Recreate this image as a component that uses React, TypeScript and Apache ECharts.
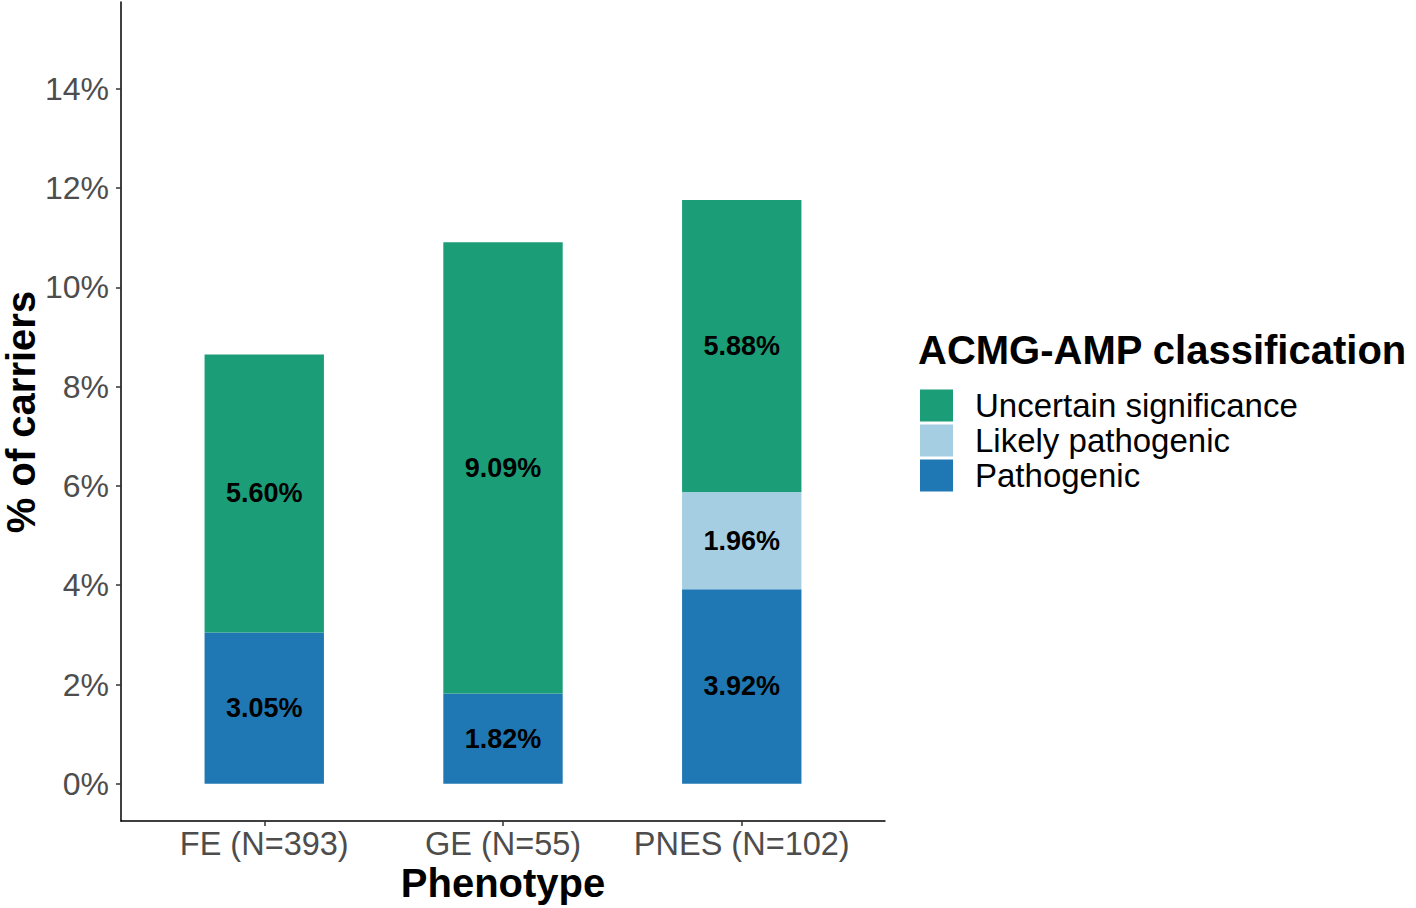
import React, { useEffect, useRef } from "react";
import * as echarts from "echarts";

const categories = ["FE (N=393)", "GE (N=55)", "PNES (N=102)"];
const pathogenic = [3.05, 1.82, 3.92];
const likelyPathogenic = [0, 0, 1.96];
const uncertain = [5.6, 9.09, 5.88];
const yTicks = [0, 2, 4, 6, 8, 10, 12, 14];
const legendOrder = ["Uncertain significance", "Likely pathogenic", "Pathogenic"];

const FONT = "'Liberation Sans', Arial, sans-serif";

// plot panel geometry (ggplot-like discrete expansion of 0.6 units each side)
const PANEL_LEFT = 121;
const PANEL_RIGHT = 885;
const X_MIN = 0.4;
const X_MAX = 3.6;
const UNIT = (PANEL_RIGHT - PANEL_LEFT) / (X_MAX - X_MIN);
const BAND_LEFT = PANEL_LEFT + (0.5 - X_MIN) * UNIT;
const BAND_RIGHT = PANEL_LEFT + (3.5 - X_MIN) * UNIT;
const Y_MIN = -0.75;
const Y_MAX = 15.75;

export default function App() {
  const ref = useRef<HTMLDivElement>(null);
  useEffect(() => {
    if (!ref.current) return;
    const chart = echarts.init(ref.current, null, { renderer: "svg" });
    const label = {
      show: true,
      position: "inside",
      fontFamily: FONT,
      fontWeight: "bold",
      fontSize: 27,
      color: "#000",
      formatter: (p: any) => (p.value > 0 ? Number(p.value).toFixed(2) + "%" : ""),
    };
    const mk = (name: string, arr: number[], color: string) => ({
      name,
      type: "bar",
      stack: "total",
      xAxisIndex: 1,
      yAxisIndex: 1,
      data: arr,
      barWidth: "50%",
      itemStyle: { color },
      label,
    });
    chart.setOption({
      animation: false,
      textStyle: { fontFamily: FONT },
      grid: [
        { left: PANEL_LEFT, right: 1416 - PANEL_RIGHT, top: 2, bottom: 87, containLabel: false },
        { left: BAND_LEFT, right: 1416 - BAND_RIGHT, top: 2, bottom: 87, containLabel: false },
      ],
      xAxis: [
        {
          type: "value",
          gridIndex: 0,
          min: X_MIN,
          max: X_MAX,
          splitLine: { show: false },
          axisLine: { show: true, onZero: false, lineStyle: { color: "#000", width: 1.5 } },
          axisTick: { show: true, length: 5, customValues: [1, 2, 3], lineStyle: { color: "#333", width: 1.5 } },
          axisLabel: {
            customValues: [1, 2, 3],
            formatter: (v: number) => categories[Math.round(v) - 1] ?? "",
            color: "#4d4d4d",
            fontSize: 32.5,
            fontFamily: FONT,
            margin: 6,
          },
        },
        {
          type: "category",
          gridIndex: 1,
          data: categories,
          boundaryGap: true,
          show: false,
        },
      ],
      yAxis: [
        {
          type: "value",
          gridIndex: 0,
          min: Y_MIN,
          max: Y_MAX,
          splitLine: { show: false },
          axisLine: { show: true, onZero: false, lineStyle: { color: "#000", width: 1.5 } },
          axisTick: { show: true, length: 5, customValues: yTicks, lineStyle: { color: "#333", width: 1.5 } },
          axisLabel: {
            customValues: yTicks,
            formatter: (v: number) => `${v}%`,
            color: "#4d4d4d",
            fontSize: 32,
            fontFamily: FONT,
            margin: 12,
          },
        },
        {
          type: "value",
          gridIndex: 1,
          min: Y_MIN,
          max: Y_MAX,
          show: false,
          splitLine: { show: false },
        },
      ],
      legend: {
        data: legendOrder,
        orient: "vertical",
        left: 915,
        top: 384,
        icon: "rect",
        itemWidth: 33,
        itemHeight: 32,
        itemGap: 2,
        selectedMode: false,
        textStyle: {
          fontSize: 33,
          lineHeight: 32,
          color: "#000",
          fontFamily: FONT,
          padding: [0, 0, 0, 17],
        },
      },
      graphic: [
        {
          type: "text",
          x: 918,
          y: 350,
          style: {
            text: "ACMG-AMP classification",
            font: `bold 40px ${FONT}`,
            fill: "#000",
            textAlign: "left",
            textVerticalAlign: "middle",
          },
        },
        {
          type: "text",
          x: 503,
          y: 883,
          style: {
            text: "Phenotype",
            font: `bold 40px ${FONT}`,
            fill: "#000",
            textAlign: "center",
            textVerticalAlign: "middle",
          },
        },
        {
          type: "text",
          x: 21,
          y: 412,
          rotation: Math.PI / 2,
          style: {
            text: "% of carriers",
            font: `bold 40px ${FONT}`,
            fill: "#000",
            textAlign: "center",
            textVerticalAlign: "middle",
          },
        },
      ],
      series: [
        mk("Pathogenic", pathogenic, "#1f78b4"),
        mk("Likely pathogenic", likelyPathogenic, "#a6cee3"),
        mk("Uncertain significance", uncertain, "#1b9e77"),
      ],
    });
    return () => chart.dispose();
  }, []);
  return (
    <div
      ref={ref}
      style={{ position: "fixed", left: 0, top: 0, width: 1416, height: 908, background: "#fff" }}
    />
  );
}
